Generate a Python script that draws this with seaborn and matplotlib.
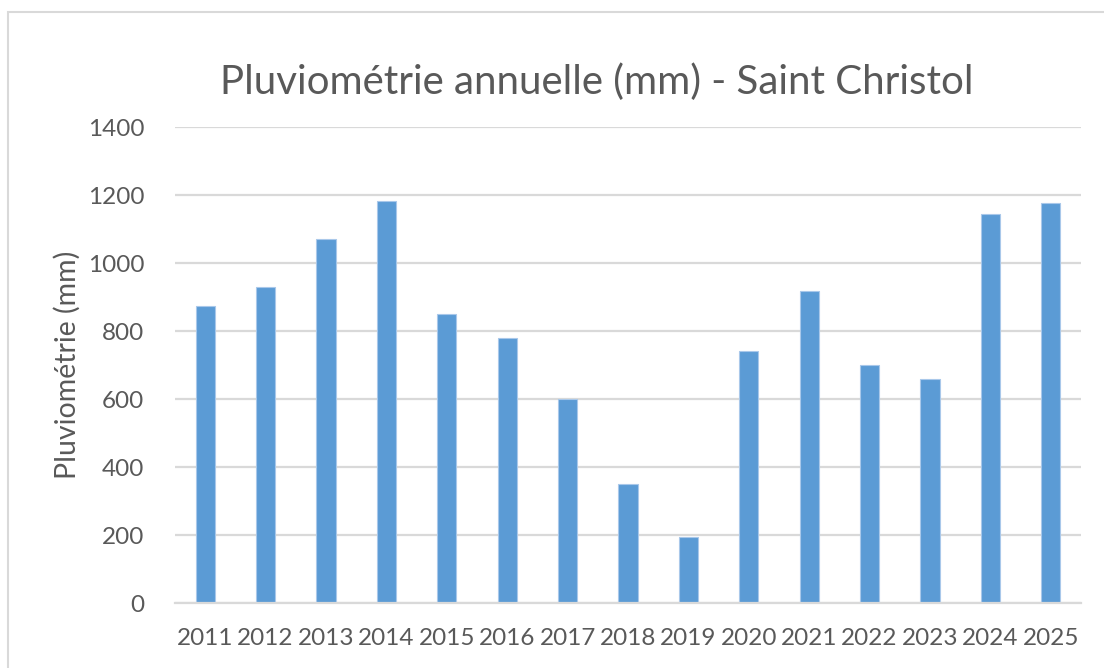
import matplotlib
matplotlib.use("Agg")
import matplotlib.pyplot as plt
import numpy as np
import pandas as pd
import seaborn as sns

years = ["2011", "2012", "2013", "2014", "2015", "2016", "2017", "2018",
         "2019", "2020", "2021", "2022", "2023", "2024", "2025"]
rain = [873, 930, 1070, 1182, 850, 779, 600, 351,
        194, 742, 917, 701, 658, 1143, 1177]
yticks = [0, 200, 400, 600, 800, 1000, 1200, 1400]

df = pd.DataFrame({"Année": years, "Pluviométrie (mm)": rain})

sns.set_theme(style="white")
plt.rcParams["font.family"] = ["Lato", "DejaVu Sans"]
txt = "#595959"

fig = plt.figure(figsize=(11.04, 6.68), dpi=100)
ax = fig.add_axes([175 / 1104, 1 - 603 / 668, (1081 - 175) / 1104, (603 - 127) / 668])

sns.barplot(data=df, x="Année", y="Pluviométrie (mm)", color="#5B9BD5",
            width=0.32, saturation=1, edgecolor="#A9C8EA", linewidth=0.8, ax=ax)

ax.set_ylim(0, 1400)
ax.set_yticks(yticks)
ax.set_xlim(-0.5, len(years) - 0.5)
ax.yaxis.grid(True, color="#D9D9D9", linewidth=1.6)
ax.set_axisbelow(True)
for s in ["top", "right", "left"]:
    ax.spines[s].set_visible(False)
ax.spines["bottom"].set_color("#D9D9D9")
ax.spines["bottom"].set_linewidth(1.6)
ax.tick_params(axis="both", length=0, labelsize=17.5, colors=txt)
ax.tick_params(axis="y", pad=22)
ax.tick_params(axis="x", pad=18)
ax.set_xlabel("")
ax.set_ylabel("Pluviométrie (mm)", fontsize=20.5, color=txt, labelpad=5)

fig.text(597 / 1104, 1 - 82 / 668, "Pluviométrie annuelle (mm) - Saint Christol",
         ha="center", va="center", fontsize=29, color=txt)

border = plt.Rectangle((8 / 1104, -0.1), 1.2, 1 - 12 / 668 + 0.1,
                       transform=fig.transFigure, fill=False,
                       edgecolor="#D9D9D9", linewidth=1.5)
fig.patches.append(border)

fig.savefig("out.png", dpi=100, facecolor="white")
